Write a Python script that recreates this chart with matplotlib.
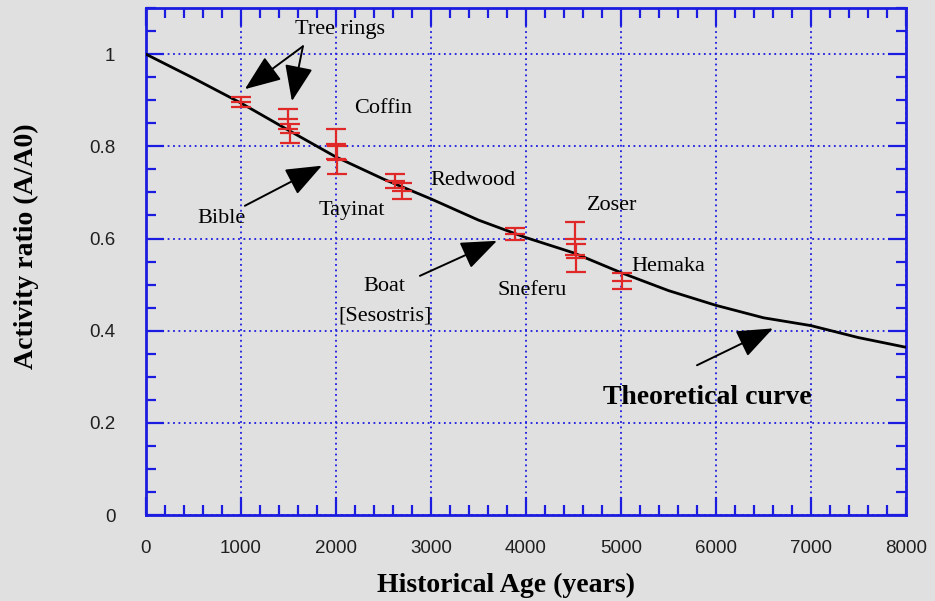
import numpy as np
import matplotlib
matplotlib.use('Agg')
import matplotlib.pyplot as plt
from matplotlib.ticker import MultipleLocator

curve_age = [0, 500, 1000, 1500, 2000, 2500, 3000, 3500, 4000, 4500,
             5000, 5500, 6000, 6500, 7000, 7500, 8000]
curve_ratio = [1.0, 0.948, 0.894, 0.835, 0.777, 0.729, 0.686, 0.640, 0.602, 0.569,
               0.526, 0.487, 0.455, 0.428, 0.411, 0.385, 0.364]

# measured samples with error bars
sample_age = [1000, 1500, 1520, 2000, 2010, 2620, 2700, 3885, 4520, 4530, 5010]
sample_ratio = [0.896, 0.860, 0.828, 0.805, 0.770, 0.725, 0.703, 0.610, 0.600, 0.558, 0.508]
sample_err = [0.010, 0.022, 0.020, 0.033, 0.030, 0.015, 0.018, 0.013, 0.035, 0.030, 0.018]

x_ticks = [0, 1000, 2000, 3000, 4000, 5000, 6000, 7000, 8000]
y_ticks = [0, 0.2, 0.4, 0.6, 0.8, 1.0]
y_tick_labels = ['0', '0.2', '0.4', '0.6', '0.8', '1']

bg = '#e0e0e0'
blue = '#1c1ce0'
red = '#e02828'
serif = ['Liberation Serif', 'DejaVu Serif']

fig = plt.figure(figsize=(9.35, 6.01), dpi=100, facecolor=bg)
ax = fig.add_axes([0.156, 0.143, 0.813, 0.8436], facecolor=bg)

ax.set_xlim(0, 8000)
ax.set_ylim(0, 1.1)

ax.plot(curve_age, curve_ratio, color='black', lw=2, zorder=3)
ax.errorbar(sample_age, sample_ratio, yerr=sample_err, fmt='_', color=red,
            ms=14, mew=1.6, elinewidth=1.6, capsize=7, capthick=1.6, zorder=4)

# ticks on all sides, pointing in
ax.set_xticks(x_ticks)
ax.set_yticks(y_ticks)
ax.set_yticklabels(y_tick_labels)
ax.xaxis.set_minor_locator(MultipleLocator(200))
ax.yaxis.set_minor_locator(MultipleLocator(0.05))
ax.tick_params(which='both', direction='in', top=True, right=True, color=blue,
               width=1.6, labelsize=13.5, labelcolor='#202020')
ax.tick_params(which='major', length=13)
ax.tick_params(which='minor', length=7)
ax.tick_params(axis='x', which='major', pad=18)
ax.tick_params(axis='y', which='major', pad=22)
for lab in ax.get_xticklabels() + ax.get_yticklabels():
    lab.set_family(['Liberation Sans', 'DejaVu Sans'])
for sp in ax.spines.values():
    sp.set_color(blue)
    sp.set_linewidth(2)

ax.grid(True, which='major', color=blue, ls=(0, (1, 2)), lw=1.3)
ax.set_axisbelow(True)

ax.set_xlabel('Historical Age (years)', family=serif, weight='bold', fontsize=20)
ax.set_ylabel('Activity ratio (A/A0)', family=serif, weight='bold', fontsize=20)
ax.xaxis.label.set_va('center')
ax.yaxis.label.set_va('center')
ax.xaxis.set_label_coords(0.474, -0.138)
ax.yaxis.set_label_coords(-0.157, 0.53)

# labels and pointer arrows
arrow = dict(arrowstyle='-|>,head_length=1.4,head_width=0.55', mutation_scale=16,
             lw=1.4, color='black', shrinkA=0, shrinkB=0)
txt = dict(family=serif, fontsize=16, ha='center', va='center')

ax.text(2042, 1.054, 'Tree rings', **txt)
ax.annotate('', xy=(1042, 0.924), xytext=(1653, 1.017), arrowprops=arrow)
ax.annotate('', xy=(1537, 0.898), xytext=(1653, 1.017), arrowprops=arrow)
ax.text(2495, 0.881, 'Coffin', **txt)
ax.text(800, 0.643, 'Bible', **txt)
ax.annotate('', xy=(1853, 0.758), xytext=(1042, 0.671), arrowprops=arrow)
ax.text(2168, 0.660, 'Tayinat', **txt)
ax.text(3442, 0.725, 'Redwood', **txt)
ax.text(4905, 0.671, 'Zoser', **txt)
ax.text(5495, 0.539, 'Hemaka', **txt)
ax.text(4063, 0.487, 'Sneferu', **txt)
ax.text(2505, 0.496, 'Boat', **txt)
ax.text(2516, 0.431, '[Sesostris]', **txt)
ax.annotate('', xy=(3695, 0.595), xytext=(2884, 0.519), arrowprops=arrow)
ax.text(5905, 0.255, 'Theoretical curve', family=serif, fontsize=20,
        weight='bold', ha='center', va='center')
ax.annotate('', xy=(6600, 0.405), xytext=(5800, 0.325), arrowprops=arrow)

fig.savefig('out.png', dpi=100, facecolor=bg)
